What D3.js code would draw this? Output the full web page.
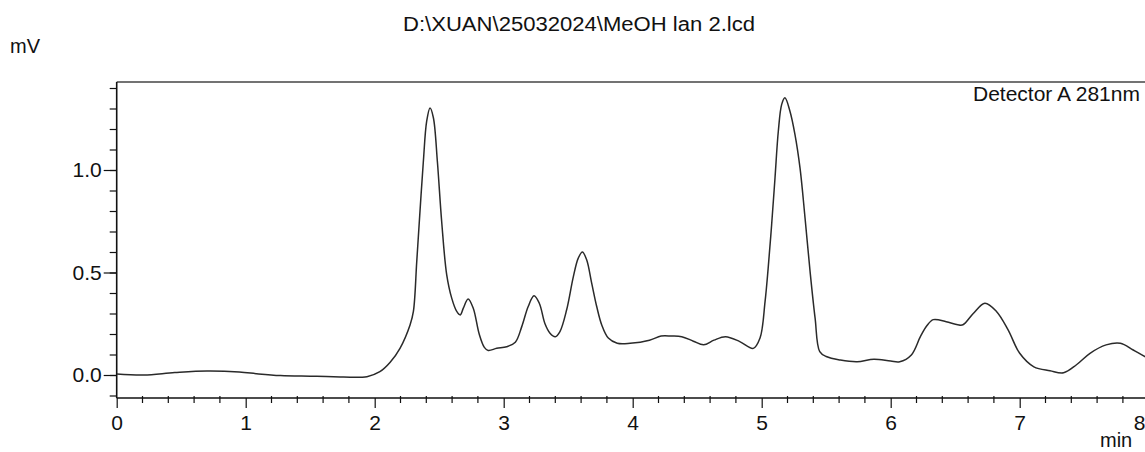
<!DOCTYPE html>
<html><head><meta charset="utf-8">
<script src="https://cdn.jsdelivr.net/npm/d3@7"></script>
<style>
html,body{margin:0;padding:0;background:#fff;}
svg{display:block;font-family:"Liberation Sans",Arial,sans-serif;}
</style></head>
<body><svg id="c" width="1145" height="452"></svg>
<script>
const titleText = "D:\\XUAN\\25032024\\MeOH lan 2.lcd";
const yUnit = "mV";
const xUnit = "min";
const detectorLabel = "Detector A 281nm";
const xMajorTicks = [0,1,2,3,4,5,6,7,8];
const yMajorTicks = [0.0,0.5,1.0];

const times = [0.00,0.21,0.45,0.70,0.95,1.10,1.27,1.50,1.68,1.94,2.04,2.12,2.196,2.274,2.30,2.326,2.351,2.377,2.403,2.429,2.455,2.486,2.519,2.558,2.597,2.636,2.663,2.687,2.724,2.764,2.81,2.85,2.88,2.946,3.023,3.09,3.14,3.19,3.235,3.276,3.32,3.359,3.40,3.436,3.488,3.54,3.578,3.61,3.643,3.682,3.721,3.76,3.811,3.88,3.98,4.13,4.22,4.30,4.38,4.47,4.55,4.63,4.72,4.83,4.935,4.987,5.026,5.05,5.077,5.103,5.129,5.155,5.18,5.219,5.258,5.297,5.336,5.375,5.414,5.45,5.50,5.61,5.74,5.87,6.00,6.07,6.16,6.23,6.28,6.33,6.43,6.52,6.56,6.64,6.73,6.82,6.91,7.00,7.11,7.235,7.34,7.44,7.545,7.67,7.78,7.88,7.97,8.05];
const signal = [0.005,0.000,0.012,0.020,0.015,0.005,-0.003,-0.006,-0.008,-0.008,0.016,0.062,0.13,0.244,0.31,0.554,0.798,1.04,1.238,1.303,1.255,1.04,0.75,0.49,0.375,0.31,0.293,0.326,0.371,0.326,0.20,0.135,0.12,0.13,0.138,0.16,0.236,0.334,0.386,0.35,0.25,0.204,0.187,0.212,0.318,0.48,0.57,0.60,0.562,0.448,0.334,0.244,0.18,0.155,0.155,0.17,0.19,0.19,0.187,0.165,0.147,0.17,0.187,0.163,0.13,0.18,0.358,0.52,0.733,0.96,1.19,1.32,1.352,1.287,1.173,1.01,0.766,0.505,0.277,0.114,0.09,0.073,0.065,0.077,0.068,0.065,0.098,0.187,0.24,0.27,0.26,0.245,0.245,0.30,0.35,0.31,0.22,0.106,0.04,0.021,0.011,0.05,0.106,0.147,0.155,0.122,0.09,0.07];

(function(){
const svg = d3.select("#c");
const x = d3.scaleLinear().domain([0,8]).range([116.7,1148.7]);
const y = d3.scaleLinear().domain([0,1]).range([375,170]);
const yMin = y.invert(398), yMax = y.invert(82);
const pL = x(0), pR = x(8.2), pT = y(yMax), pB = y(yMin);

svg.append("defs").append("clipPath").attr("id","plot")
  .append("rect").attr("x",pL).attr("y",pT).attr("width",pR-pL).attr("height",pB-pT);

// top frame
svg.append("line").attr("x1",pL).attr("x2",pR).attr("y1",pT).attr("y2",pT)
  .attr("stroke","#444").attr("stroke-width",1.6);

// y minor ticks
const yMinor = d3.range(-1,15).map(d=>d/10).filter(v=>v>=yMin && v<=yMax);
svg.append("g").attr("transform",`translate(${pL},0)`)
  .call(d3.axisLeft(y).tickValues(yMinor).tickSize(7).tickFormat(""))
  .call(g=>g.select(".domain").remove())
  .selectAll("line").attr("stroke","#111").attr("stroke-width",1.2);

// y axis
const ya = svg.append("g").attr("transform",`translate(${pL},0)`)
  .call(d3.axisLeft(y).tickValues(yMajorTicks).tickSize(13).tickSizeOuter(0).tickPadding(2).tickFormat(d3.format(".1f")));
ya.select(".domain").attr("d",`M0,${pT}V${pB}`).attr("stroke","#111").attr("stroke-width",1.6);
ya.selectAll("line").attr("stroke","#111").attr("stroke-width",1.2);
ya.selectAll("text").attr("font-size",21).attr("fill","#111").attr("font-family","Liberation Sans, Arial, sans-serif");

// x minor ticks
const xMinor = d3.range(0,41).map(d=>d/5).filter(v=>Math.abs(v-Math.round(v))>1e-6);
svg.append("g").selectAll("line").data(xMinor).join("line")
  .attr("x1",d=>x(d)).attr("x2",d=>x(d)).attr("y1",pB-2).attr("y2",pB+5)
  .attr("stroke","#111").attr("stroke-width",1.2);

// x axis
const xa = svg.append("g").attr("transform",`translate(0,${pB})`)
  .call(d3.axisBottom(x).tickValues(xMajorTicks).tickSize(10).tickSizeOuter(0).tickPadding(7).tickFormat(d3.format("d")));
xa.select(".domain").attr("d",`M${pL},0H${pR}`).attr("stroke","#111").attr("stroke-width",1.6);
xa.selectAll("line").attr("stroke","#111").attr("stroke-width",1.2);
xa.selectAll("text").attr("font-size",21).attr("fill","#111").attr("font-family","Liberation Sans, Arial, sans-serif")
  .attr("text-anchor",d=>d===8?"end":"middle")
  .attr("dx",d=>d===8?(1145-x(8)):0);

// curve
const pts = times.map((t,i)=>[t,signal[i]]);
svg.append("path").datum(pts).attr("clip-path","url(#plot)")
  .attr("fill","none").attr("stroke","#2a2a2a").attr("stroke-width",1.5)
  .attr("stroke-linejoin","round")
  .attr("d",d3.line().x(d=>x(d[0])).y(d=>y(d[1])).curve(d3.curveCatmullRom.alpha(0.5)));

// texts
svg.append("text").attr("x",579).attr("y",31).attr("text-anchor","middle")
  .attr("font-size",20).attr("fill","#111").attr("textLength",352).attr("lengthAdjust","spacingAndGlyphs")
  .text(titleText);
svg.append("text").attr("x",10).attr("y",53).attr("font-size",20).attr("fill","#111").text(yUnit);
svg.append("text").attr("x",973).attr("y",101).attr("font-size",21).attr("fill","#111").text(detectorLabel);
svg.append("text").attr("x",1100).attr("y",447).attr("font-size",20).attr("fill","#111").text(xUnit);
})();
</script></body></html>
